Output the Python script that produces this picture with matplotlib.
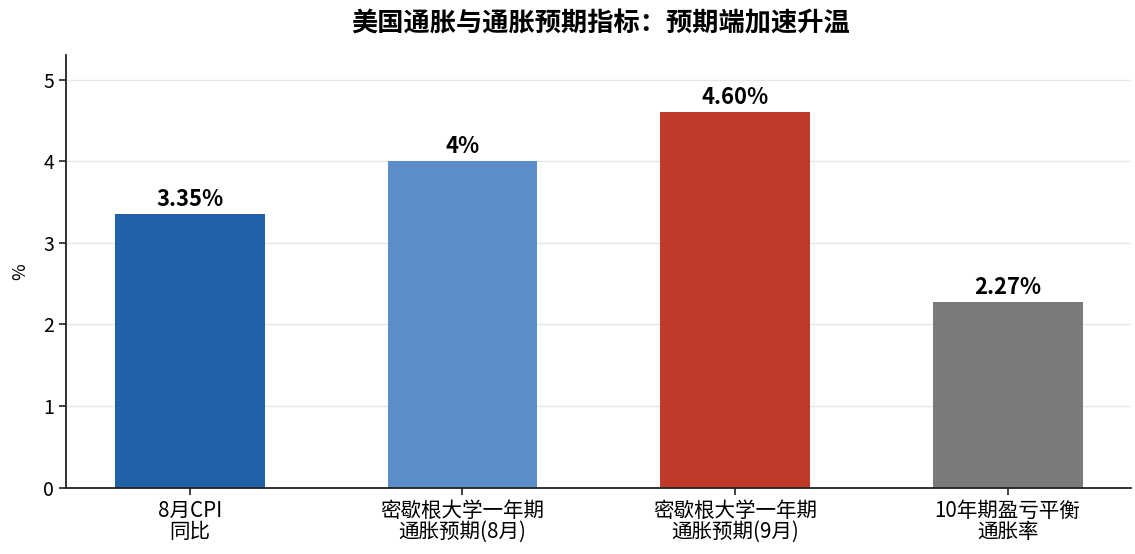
import matplotlib
matplotlib.use("Agg")
import matplotlib.pyplot as plt

plt.rcParams['font.family'] = ['Noto Sans CJK SC', 'DejaVu Sans']

categories = ["8月CPI\n同比", "密歇根大学一年期\n通胀预期(8月)", "密歇根大学一年期\n通胀预期(9月)", "10年期盈亏平衡\n通胀率"]
values = [3.35, 4.0, 4.60, 2.27]
value_labels = ["3.35%", "4%", "4.60%", "2.27%"]
colors = ["#2161a8", "#5b8dc8", "#c0392b", "#7a7a7a"]
yticks = [0, 1, 2, 3, 4, 5]
title = "美国通胀与通胀预期指标：预期端加速升温"

fig = plt.figure(figsize=(11.35, 5.54), dpi=100)
ax = fig.add_axes([0.0581, 0.1197, 0.9384, 0.781])

x = list(range(len(categories)))
bars = ax.bar(x, values, width=0.55, color=colors, zorder=2)
for xi, v, lab in zip(x, values, value_labels):
    ax.text(xi, v + 0.04, lab, ha='center', va='bottom', fontsize=15.8, fontweight='bold', color='black', zorder=3)

ax.set_xlim(-0.455, 3.453)
ax.set_ylim(0, 5.3)
ax.set_yticks(yticks)
ax.set_xticks(x)
ax.set_xticklabels(categories, fontsize=14.8, linespacing=0.95)
ax.tick_params(axis='y', labelsize=14)
ax.tick_params(axis='both', direction='out', length=5, width=1.2, color='#222222')
ax.set_ylabel('%', fontsize=13, labelpad=10)
ax.grid(axis='y', color='#e6e6e6', linewidth=1.0, zorder=1)
for s in ['top', 'right']:
    ax.spines[s].set_visible(False)
for s in ['left', 'bottom']:
    ax.spines[s].set_linewidth(1.3)
    ax.spines[s].set_color('#222222')
ax.set_axisbelow(True)

fig.suptitle(title, fontsize=18.9, fontweight='bold', y=0.982, x=0.529)

fig.savefig('out.png', dpi=100)
